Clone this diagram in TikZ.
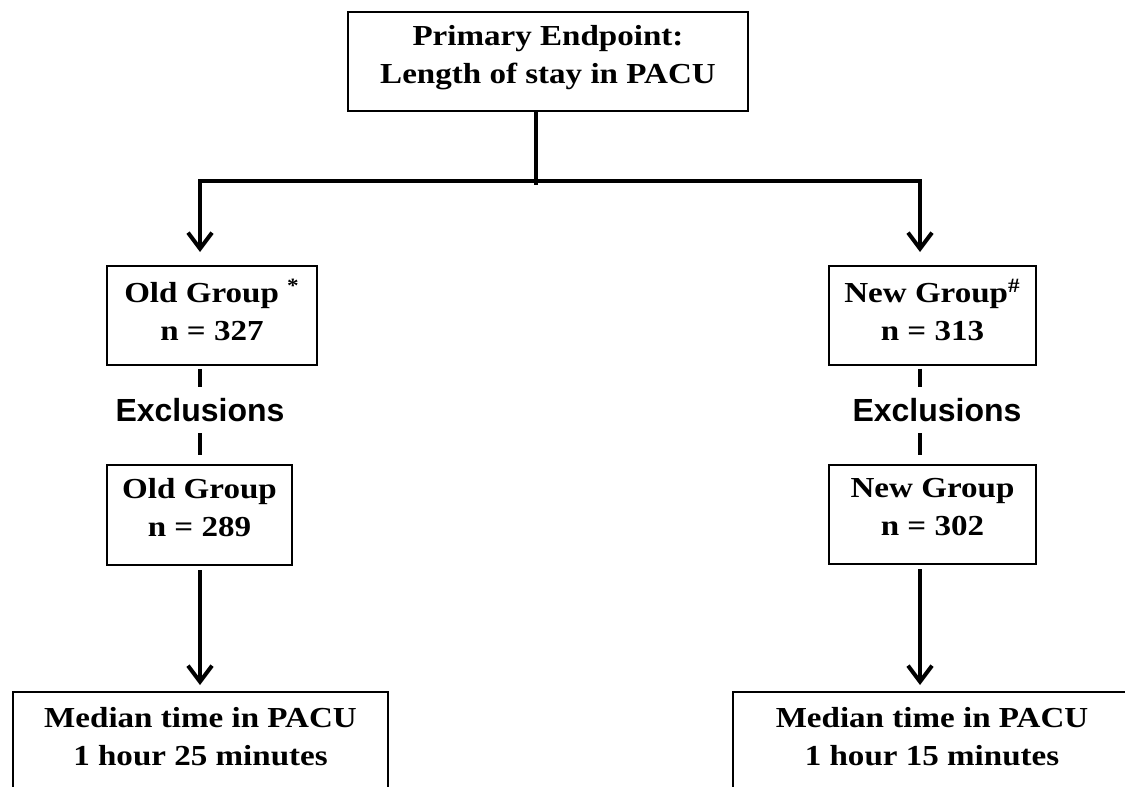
\documentclass[tikz,border=0pt]{standalone}
\usepackage{fontspec}
\setmainfont{Liberation Serif}[FakeStretch=1.14]
\newfontfamily\exclfont{Liberation Sans}
\usetikzlibrary{arrows.meta}

\begin{document}
\begin{tikzpicture}[x=0.5pt, y=-0.5pt,
    box/.style = {draw, line width=1pt, align=center, anchor=north, inner ysep=6.5pt,
                  font=\bfseries\fontsize{14.5}{19}\selectfont},
    link/.style = {line width=2pt},
    arrow/.style = {link, -{Straight Barb[length=8pt,width=12pt]}},
    excl/.style = {font=\exclfont\bfseries\fontsize{16}{19}\selectfont, inner sep=0pt, minimum height=23pt}]
    \useasboundingbox (0,0) rectangle (1125,787);
    \clip (0,0) rectangle (1125,787);
    % boxes
    \node[box, minimum width=200pt, text depth=7.25pt] (endpoint) at (548,11) {Primary Endpoint:\\Length of stay in PACU};
    \node[box, minimum width=105pt, text depth=5.5pt] (old1) at (212,265) {Old Group \textsuperscript{*}\\n = 327};
    \node[box, minimum width=103.5pt, text depth=5.5pt] (new1) at (932.5,265) {New Group\textsuperscript{\#}\\n = 313};
    \node[box, minimum width=92.5pt, text depth=8pt] (old2) at (199.5,464) {Old Group\\n = 289};
    \node[box, minimum width=103.5pt, text depth=8pt] (new2) at (932.5,464) {New Group\\n = 302};
    \node[box, minimum width=187.5pt, text depth=40pt, inner ysep=7.5pt] (oldres) at (200.5,691) {Median time in PACU\\1 hour 25 minutes};
    \node[box, minimum width=199pt, text depth=40pt, inner ysep=7.5pt] (newres) at (932,691) {Median time in PACU\\1 hour 15 minutes};
    \node[excl] (excl1) at (200,410) {Exclusions};
    \node[excl] (excl2) at (937,410) {Exclusions};
    % columns
    \coordinate (split) at (536,181);
    \coordinate (lx) at (200,0);
    \coordinate (rx) at (920,0);
    % connectors
    \draw[link] (endpoint.south -| split) -- ([yshift=-2pt]split);
    \draw[arrow, shorten >=6.5pt] (split) -| (old1.north -| lx);
    \draw[arrow, shorten >=6.5pt] (split) -| (new1.north -| rx);
    \draw[link, shorten <=1.5pt] (old1.south -| lx) -- (excl1.north -| lx);
    \draw[link, shorten >=4.5pt] (excl1.south -| lx) -- (old2.north -| lx);
    \draw[link, shorten <=1.5pt] (new1.south -| rx) -- (excl2.north -| rx);
    \draw[link, shorten >=4.5pt] (excl2.south -| rx) -- (new2.north -| rx);
    \draw[arrow, shorten <=2pt, shorten >=3pt] (old2.south -| lx) -- (oldres.north -| lx);
    \draw[arrow, shorten <=2pt, shorten >=3pt] (new2.south -| rx) -- (newres.north -| rx);
\end{tikzpicture}
\end{document}
